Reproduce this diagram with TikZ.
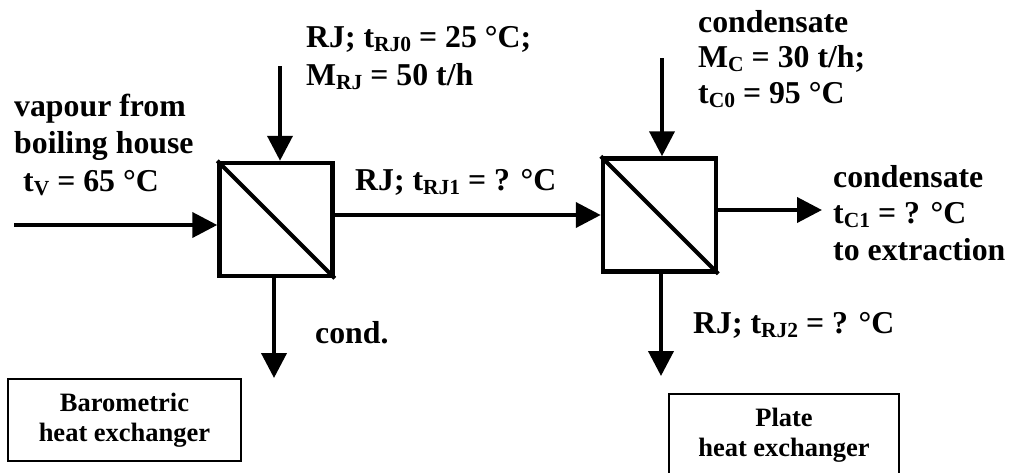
\documentclass[tikz,border=0pt]{standalone}
\usepackage{fontspec}
\setmainfont{Liberation Serif}
\usetikzlibrary{arrows.meta}
\newcommand\lowidx[1]{\raisebox{-4pt}{\fontsize{21.5}{21.5}\selectfont #1}}
\begin{document}
\begin{tikzpicture}[x=1pt,y=-1pt,
  hx/.style={draw, line width=4.5pt, minimum width=113pt, minimum height=113pt, inner sep=0pt},
  flow/.style={line width=4pt, -{Triangle[length=25pt,width=25pt]}},
  lbl/.style={font=\fontsize{31.8}{37.5}\selectfont\bfseries, anchor=base west, inner sep=0pt, align=left},
  tag/.style={draw, line width=1.5pt, font=\fontsize{26.5}{29.5}\selectfont\bfseries, align=center, inner sep=0pt}]
\useasboundingbox (0,0) rectangle (1023,472);
% exchangers
\node[hx] (b1) at (276,219.5) {};
\node[hx] (b2) at (659.5,215) {};
\draw[line width=4pt] (b1.north west) -- (b1.south east);
\draw[line width=4pt] (b2.north west) -- (b2.south east);
% coordinates for free ends
\coordinate (in1) at (14,225);
\coordinate (top1) at (280,66);
\coordinate (mid) at (0,215);
\coordinate (top2) at (662,58);
\coordinate (out2) at (822,210);
\coordinate (dn1) at (274,378);
\coordinate (dn2) at (661,376);
% flows
\draw[flow] (in1) -- (in1 -| b1.west);
\draw[flow] (top1) -- (top1 |- b1.north);
\draw[flow] (b1.east |- mid) -- (b2.west |- mid);
\draw[flow] (top2) -- (top2 |- b2.north);
\draw[flow] (out2 -| b2.east) -- (out2);
\draw[flow] (dn1 |- b1.south) -- (dn1);
\draw[flow] (dn2 |- b2.south) -- (dn2);
% labels (anchor = baseline of last line)
\node[lbl] (lv) at (14,191) {vapour from\\boiling house\\\hspace*{9pt}t\lowidx{V} = 65 °C};
\node[lbl] (lrj0) at (306,85) {RJ; t\lowidx{RJ0} = 25 °C;\\M\lowidx{RJ} = 50 t/h};
\node[lbl] (lrj1) at (355,190) {RJ; t\lowidx{RJ1} = ? °C};
\node[lbl] (lc0) at (698,103) {condensate\\[-2pt]M\lowidx{C} = 30 t/h;\\[-2pt]t\lowidx{C0} = 95 °C};
\node[lbl] (lc1) at (833,260) {condensate\\[-1pt]t\lowidx{C1} = ? °C\\[-1pt]to extraction};
\node[lbl] (lcond) at (315,343) {cond.};
\node[lbl] (lrj2) at (693,333) {RJ; t\lowidx{RJ2} = ? °C};
% tags
\node[tag, minimum width=233pt, minimum height=82pt] (tbar) at (124.5,420) {Barometric\\heat exchanger};
\node[tag, minimum width=230pt, minimum height=82pt] (tpl) at (784,435) {Plate\\heat exchanger};
\end{tikzpicture}
\end{document}
